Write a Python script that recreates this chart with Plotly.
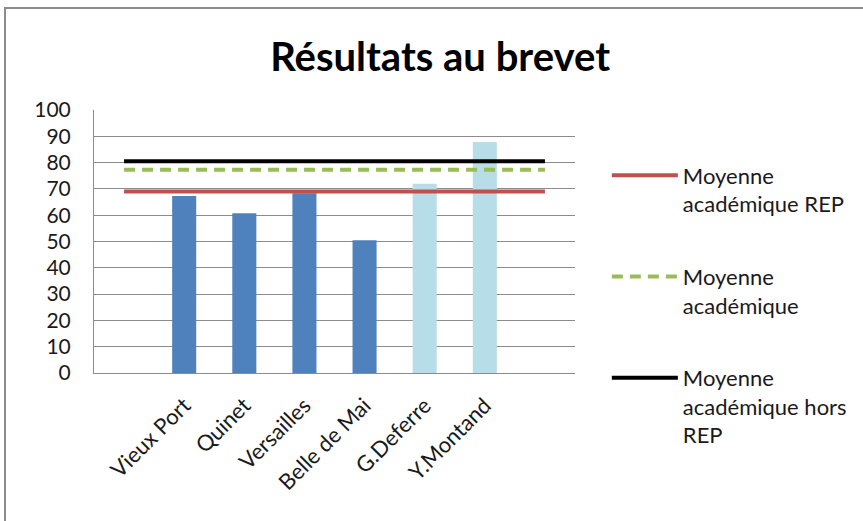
import plotly.graph_objects as go

# categories: Excel left an empty slot at each end of the axis
categories = ["", "Vieux Port", "Quinet", "Versailles", "Belle de Mai", "G.Deferre", "Y.Montand", ""]
scores = [None, 67.3, 60.7, 68.3, 50.5, 72.0, 87.8, None]
bar_colors = ["#4F81BD", "#4F81BD", "#4F81BD", "#4F81BD", "#4F81BD", "#B7DDE8", "#B7DDE8", "#B7DDE8"]

moy_rep = [69, 69, 69, 69, 69, 69, 69, 69]
moy_acad = [77.3, 77.3, 77.3, 77.3, 77.3, 77.3, 77.3, 77.3]
moy_hors_rep = [80.5, 80.5, 80.5, 80.5, 80.5, 80.5, 80.5, 80.5]

FONT = "Lato, Calibri, sans-serif"
GRID = "#8C8C8C"

x = list(range(len(categories)))

fig = go.Figure()
fig.add_trace(go.Bar(x=x, y=scores, width=0.4, marker_color=bar_colors,
                     marker_line_width=0, showlegend=False, hoverinfo="y"))
fig.add_trace(go.Scatter(x=x, y=moy_rep, mode="lines", name="Moyenne<br>académique REP",
                         legendgroup="a", line=dict(color="#C0504D", width=4)))
fig.add_trace(go.Scatter(x=x, y=moy_acad, mode="lines", name="Moyenne<br>académique",
                         legendgroup="b", line=dict(color="#9BBB59", width=4, dash="11px,7px")))
fig.add_trace(go.Scatter(x=x, y=moy_hors_rep, mode="lines", name="Moyenne<br>académique hors<br>REP",
                         legendgroup="c", line=dict(color="#000000", width=4)))

fig.update_layout(
    width=863, height=521,
    paper_bgcolor="white", plot_bgcolor="white",
    font=dict(family=FONT, color="#1a1a1a", size=20),
    margin=dict(l=94, r=287, t=110, b=148),
    title=dict(text="<b>Résultats au brevet</b>", x=0.51, xanchor="center", y=0.89, yanchor="middle",
               font=dict(size=40, color="black", family=FONT)),
    legend=dict(x=1.064, y=0.831, xanchor="left", yanchor="top", tracegroupgap=41,
                itemwidth=66, valign="top", font=dict(size=22), bgcolor="rgba(0,0,0,0)",
                maxheight=420),
    shapes=[dict(type="rect", xref="paper", yref="paper", x0=-0.185, x1=1.7, y0=-1, y1=1.388,
                 line=dict(color="#8C8C8C", width=2), fillcolor="rgba(0,0,0,0)", layer="below")],
)
fig.update_xaxes(range=[-0.5, len(categories) - 0.5], tickvals=x[1:-1], ticktext=categories[1:-1],
                 tickangle=-45, showgrid=False, showline=True, linecolor=GRID, linewidth=1,
                 ticks="", zeroline=False, ticklabelstandoff=10, tickfont=dict(size=22))
fig.update_yaxes(range=[0, 100], dtick=10, showgrid=True, gridcolor=GRID, gridwidth=1,
                 showline=True, linecolor=GRID, linewidth=1, zeroline=False,
                 ticks="", ticklabelstandoff=18, tickfont=dict(size=21))

# drop the default 8px page margin so the chart sits at the window corner
fig.write_html("out.html", config={"displayModeBar": False},
               post_script="document.body.style.margin='0';")
